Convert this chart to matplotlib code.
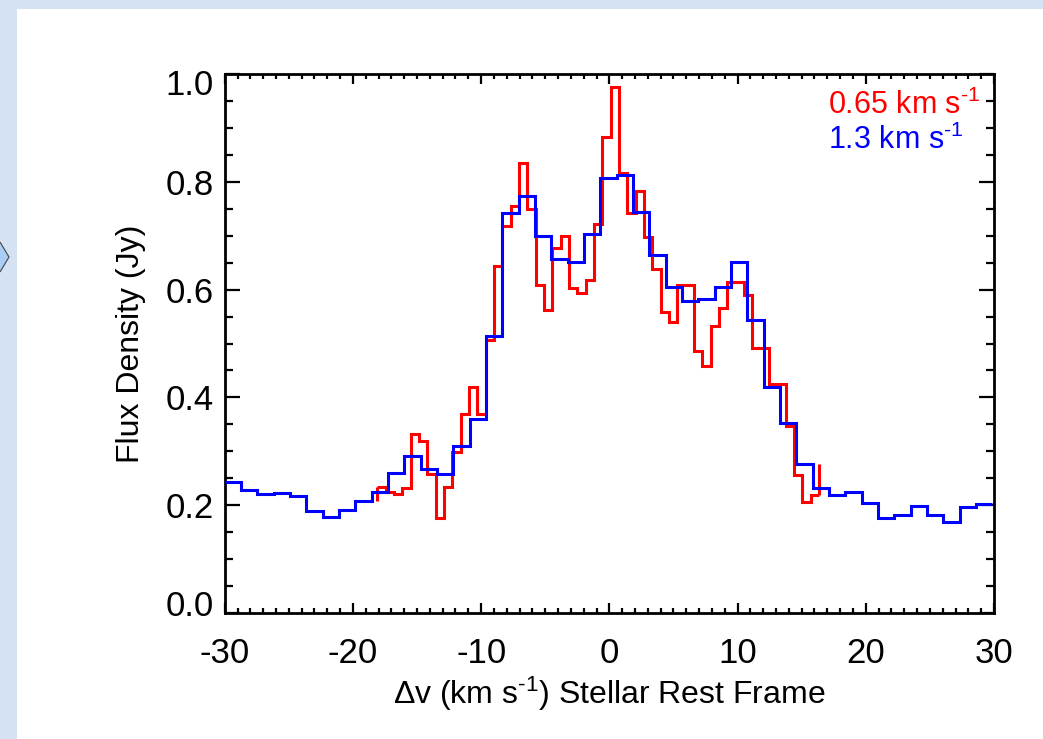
import matplotlib
matplotlib.use("Agg")
import matplotlib.pyplot as plt
import matplotlib.transforms as mtransforms
import numpy as np
from matplotlib.patches import Rectangle, Polygon

plt.rcParams['font.family'] = ['Liberation Sans', 'DejaVu Sans']
plt.rcParams['mathtext.fontset'] = 'custom'
plt.rcParams['mathtext.rm'] = 'Liberation Sans'
plt.rcParams['mathtext.it'] = 'Liberation Sans:italic'

# 1.3 km/s channels, flux density in Jy
blue_v0 = -30.0
blue_dv = 1.274
blue_flux = [0.243, 0.228, 0.220, 0.223, 0.217, 0.190, 0.178, 0.191, 0.208, 0.225,
             0.260, 0.292, 0.268, 0.257, 0.309, 0.360, 0.513, 0.743, 0.774, 0.699,
             0.656, 0.652, 0.703, 0.807, 0.813, 0.744, 0.664, 0.605, 0.578, 0.582,
             0.605, 0.652, 0.543, 0.419, 0.353, 0.277, 0.231, 0.219, 0.225, 0.205,
             0.176, 0.182, 0.199, 0.182, 0.169, 0.197, 0.203]

# 0.65 km/s channels
red_v0 = -18.1
red_dv = 0.65
red_flux = [0.233, 0.225, 0.221, 0.231, 0.333, 0.319, 0.257, 0.176, 0.234, 0.298,
            0.370, 0.419, 0.370, 0.507, 0.643, 0.718, 0.756, 0.835, 0.749, 0.608,
            0.562, 0.678, 0.700, 0.603, 0.593, 0.617, 0.721, 0.884, 0.976, 0.816,
            0.743, 0.783, 0.697, 0.638, 0.558, 0.540, 0.608, 0.608, 0.487, 0.458,
            0.533, 0.566, 0.614, 0.614, 0.590, 0.491, 0.491, 0.424, 0.424, 0.347,
            0.256, 0.206, 0.219]
red_before = 0.208   # level the red trace rises from at its first channel
red_after = 0.277    # level the red trace jumps to after its last channel

x_ticks = [-30, -20, -10, 0, 10, 20, 30]
y_ticks = [0.0, 0.2, 0.4, 0.6, 0.8, 1.0]
y_tick_labels = ['0.0', '0.2', '0.4', '0.6', '0.8', '1.0']

W, H = 1043, 739
fig = plt.figure(figsize=(W / 100, H / 100), dpi=100)
fig.patch.set_facecolor('white')

# slide frame behind the chart
frame_col = '#d5e2f3'
fig.patches.append(Rectangle((0, 0), 17 / W, 1, transform=fig.transFigure,
                             facecolor=frame_col, edgecolor='none', zorder=0))
fig.patches.append(Rectangle((0, 1 - 9 / H), 1, 9 / H, transform=fig.transFigure,
                             facecolor=frame_col, edgecolor='none', zorder=0))
chev = [(0, 1 - 242 / H), (9 / W, 1 - 257 / H), (0, 1 - 272 / H)]
fig.patches.append(Polygon(chev, closed=False, transform=fig.transFigure,
                           facecolor='#a9cdf5', edgecolor='#444444', lw=0.8, zorder=1))

ax = fig.add_axes([224.7 / W, 1 - 613 / H, 769.3 / W, 539 / H])

blue_edges = blue_v0 + blue_dv * np.arange(len(blue_flux) + 1)
ax.stairs(blue_flux, blue_edges, baseline=None, color='#0000ff', lw=2.2, zorder=3)

red_edges = red_v0 + red_dv * np.arange(len(red_flux) + 1)
ax.stairs(red_flux, red_edges, baseline=None, color='#ff0000', lw=2.2, zorder=2)
ax.vlines([red_edges[0], red_edges[-1]], [red_before, red_flux[-1]],
          [red_flux[0], red_after], color='#ff0000', lw=2.2, zorder=2)

ax.set_xlim(-30, 30)
ax.set_ylim(0, 1.0)
ax.set_xticks(x_ticks)
ax.set_xticklabels([str(v) for v in x_ticks])
ax.set_yticks(y_ticks)
ax.set_yticklabels(y_tick_labels)
ax.set_xticks(np.arange(-30, 31, 1), minor=True)
ax.set_yticks(np.arange(0, 1.0001, 0.05), minor=True)

ax.tick_params(which='both', direction='in', top=True, right=True, width=1.6,
               labelsize=25, colors='black')
ax.tick_params(axis='x', which='major', length=7, pad=17)
ax.tick_params(axis='x', which='minor', length=3.5)
ax.tick_params(axis='y', which='major', length=11, pad=8)
ax.tick_params(axis='y', which='minor', length=6)
for s in ax.spines.values():
    s.set_linewidth(2.0)

# edge labels sit slightly inside, as in the original
ylabs = ax.get_yticklabels()
ylabs[0].set_transform(ylabs[0].get_transform() +
                       mtransforms.ScaledTranslation(0, 10 / 100, fig.dpi_scale_trans))
ylabs[-1].set_transform(ylabs[-1].get_transform() +
                        mtransforms.ScaledTranslation(0, -8 / 100, fig.dpi_scale_trans))

ax.set_xlabel(r'$\Delta$v (km s$^{\text{-1}}$) Stellar Rest Frame', fontsize=23, labelpad=4)
ax.set_ylabel('Flux Density (Jy)', fontsize=23, labelpad=14)

ax.text(0.784, 0.926, r'0.65 km s$^{\text{-1}}$', color='#ff0000', fontsize=22,
        transform=ax.transAxes, ha='left', va='baseline')
ax.text(0.784, 0.861, r'1.3 km s$^{\text{-1}}$', color='#0000ff', fontsize=22,
        transform=ax.transAxes, ha='left', va='baseline')

fig.savefig('out.png', dpi=100, facecolor=fig.get_facecolor())
